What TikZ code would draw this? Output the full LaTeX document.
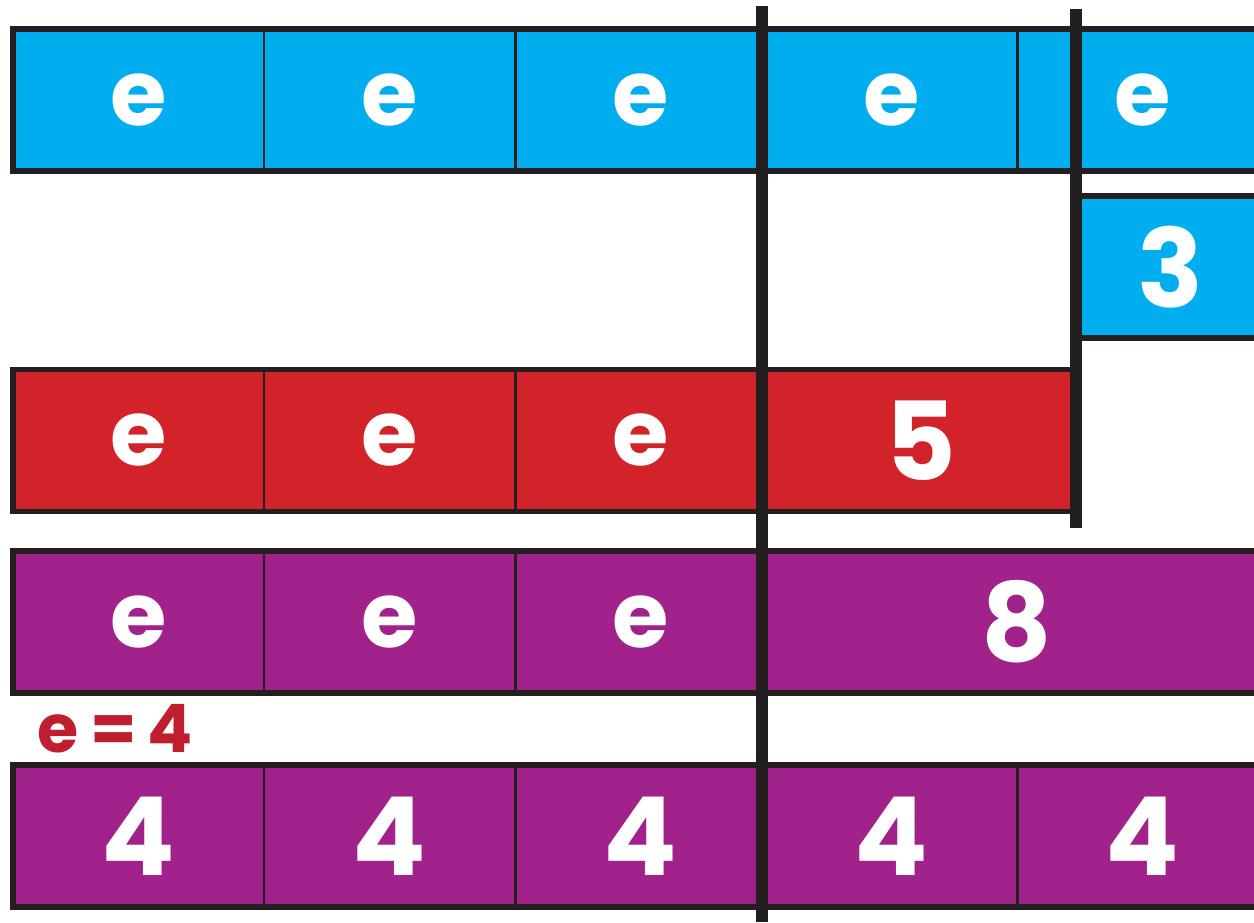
\documentclass[tikz,border=0pt]{standalone}
\usepackage{fontspec}
\setmainfont{Poppins}
\usetikzlibrary{positioning}

\definecolor{barblue}{HTML}{00AEEF}
\definecolor{barred}{HTML}{D2232A}
\definecolor{barpurple}{HTML}{A1228B}
\definecolor{edge}{HTML}{231F20}
\definecolor{labelred}{HTML}{BE1E2D}

\tikzset{
  cell/.style={draw=edge, line width=1.7pt, minimum width=5.02cm, minimum height=2.84cm,
    inner sep=0pt, outer sep=0pt, text=white, font=\bfseries\fontsize{62}{62}\selectfont},
  ecell/.style={cell, font=\bfseries\fontsize{52}{52}\selectfont},
  rowedge/.style={draw=edge, line width=3.4pt},
  divider/.style={draw=edge, line width=0.24cm},
}

\begin{document}
\begin{tikzpicture}
  \useasboundingbox (0,0) rectangle (25.08,18.44);
  \clip (0,0) rectangle (25.08,18.44);

  % --- 第一行：5e ---
  \node[ecell, fill=barblue] (b1) at (2.77,16.44) {e};
  \node[ecell, fill=barblue, right=0pt of b1] (b2) {e};
  \node[ecell, fill=barblue, right=0pt of b2] (b3) {e};
  \node[ecell, fill=barblue, right=0pt of b3] (b4) {e};
  \node[ecell, fill=barblue, right=0pt of b4] (b5) {e};
  \draw[rowedge] (b1.north west) rectangle (b5.south east);

  % 多出的 3
  \node[cell, fill=barblue, minimum width=3.77cm, anchor=west] (t3) at (21.52,13.10) {3};
  \draw[rowedge] (t3.north west) rectangle (t3.south east);

  % --- 第二行：3e + 5 ---
  \node[ecell, fill=barred] (r1) at (2.77,9.63) {e};
  \node[ecell, fill=barred, right=0pt of r1] (r2) {e};
  \node[ecell, fill=barred, right=0pt of r2] (r3) {e};
  \node[cell, fill=barred, minimum width=6.2cm, right=0pt of r3] (r5) {5};
  \draw[rowedge] (r1.north west) rectangle (r5.south east);

  % --- 第三行：3e + 8 ---
  \node[ecell, fill=barpurple] (p1) at (2.77,6.00) {e};
  \node[ecell, fill=barpurple, right=0pt of p1] (p2) {e};
  \node[ecell, fill=barpurple, right=0pt of p2] (p3) {e};
  \node[cell, fill=barpurple, minimum width=10.04cm, right=0pt of p3] (p8) {8};
  \draw[rowedge] (p1.north west) rectangle (p8.south east);

  % 结果 e = 4
  \node[anchor=base, text=labelred, font=\bfseries\fontsize{38}{38}\selectfont]
    (result) at (2.31,3.38) {e\,=\,4};

  % --- 第四行：5 × 4 ---
  \node[cell, fill=barpurple] (q1) at (2.77,1.72) {4};
  \node[cell, fill=barpurple, right=0pt of q1] (q2) {4};
  \node[cell, fill=barpurple, right=0pt of q2] (q3) {4};
  \node[cell, fill=barpurple, right=0pt of q3] (q4) {4};
  \node[cell, fill=barpurple, right=0pt of q4] (q5) {4};
  \draw[rowedge] (q1.north west) rectangle (q5.south east);

  % 竖直分隔线
  \coordinate (cutA top) at (15.23,18.32);
  \coordinate (cutA bottom) at (15.23,0);
  \coordinate (cutB top) at (21.52,18.26);
  \coordinate (cutB bottom) at (21.52,7.88);
  \draw[divider] (cutA top) -- (cutA bottom);
  \draw[divider] (cutB top) -- (cutB bottom);
\end{tikzpicture}
\end{document}
